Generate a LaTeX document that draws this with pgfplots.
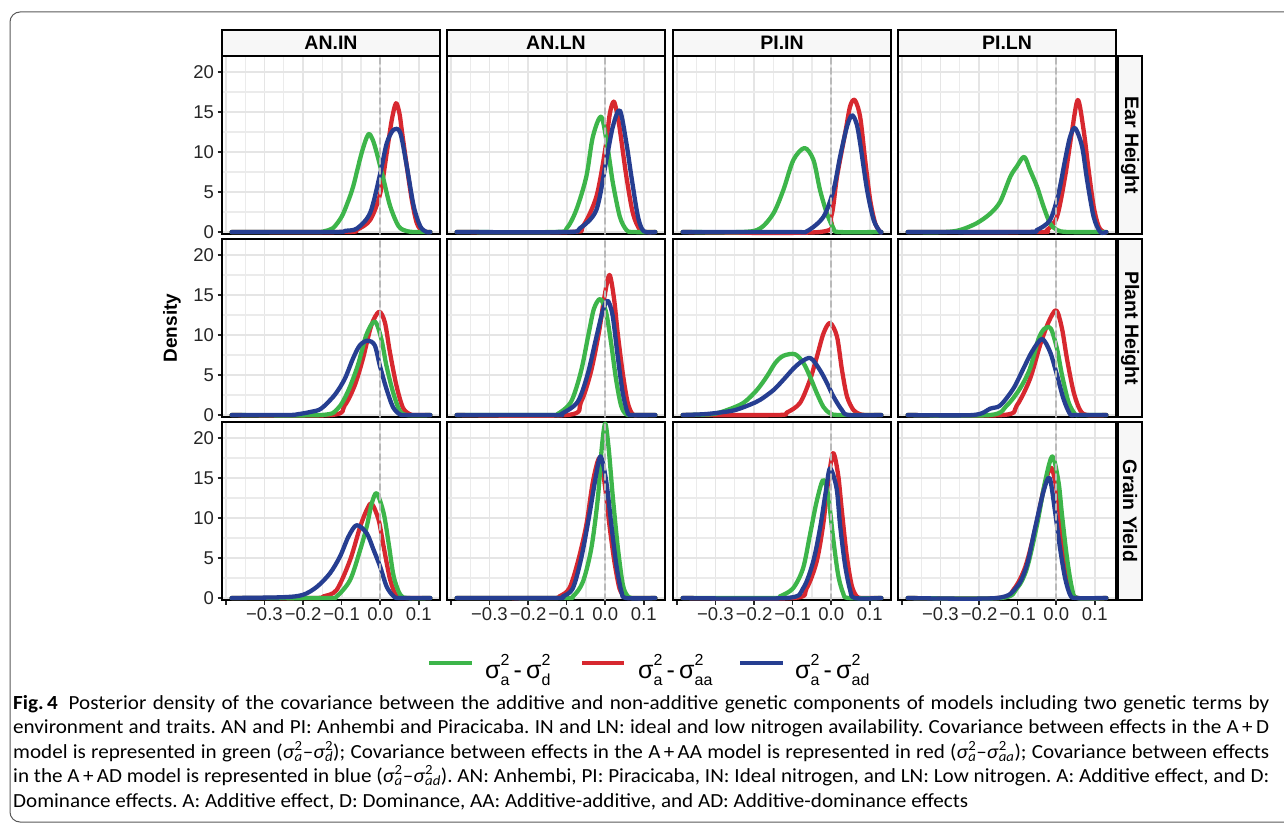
\documentclass[border=0pt]{standalone}
\usepackage{fontspec}
\setmainfont{Liberation Sans}
\newfontfamily\capfont[FakeStretch=1.055]{Carlito}
\usepackage{pgfplots}
\pgfplotsset{compat=1.18}
\frenchspacing

\definecolor{cg}{HTML}{3DB54A}
\definecolor{cr}{HTML}{D7282F}
\definecolor{cb}{HTML}{263E91}

\pgfplotsset{
 pan/.style={scale only axis, width=218pt, height=178pt, anchor=north west,
  xmin=-0.41, xmax=0.155, ymin=-0.25, ymax=22,
  xtick={-0.4,-0.3,-0.2,-0.1,0,0.1}, ytick={0,5,10,15,20},
  minor x tick num=1, minor y tick num=1,
  grid=both,
  major grid style={line width=1.8pt, black!10},
  minor grid style={line width=1.2pt, black!8},
  axis line style={line width=2.2pt, black},
  tick pos=left, tick align=outside,
  major tick length=4.5pt, minor tick length=0pt,
  xtick style={draw=none}, ytick style={draw=none},
  xticklabels={}, yticklabels={},
  tick label style={font=\fontsize{18.5}{18.5}\selectfont, text=black!85},
  clip=false,
  every axis plot/.append style={line width=4.3pt, smooth, tension=0.5, line join=round, line cap=round},
 },
 leftcol/.style={ytick style={draw=black!85, line width=1.6pt}, yticklabels={0,5,10,15,20}},
 botrow/.style={xtick style={draw=black!85, line width=1.6pt}, xticklabels={,−0.3,−0.2,−0.1,0.0,0.1}},
}
\newcommand\zeroline{\addplot[gray!55, sharp plot, line width=1.9pt, dash pattern=on 6pt off 4pt] coordinates {(0,-0.25) (0,22)};}
\newcommand\lsig[1]{σ\rlap{\raisebox{0.52em}{\fontsize{16}{16}\selectfont 2}}\raisebox{-0.3em}{\fontsize{16}{16}\selectfont #1}}
\newcommand\cs[1]{\textit{σ}\rlap{\textsuperscript{2}}\textsubscript{\textit{#1}}}

\begin{document}
\begin{tikzpicture}
\path[use as bounding box] (0pt,0pt) rectangle (1284pt,-829pt);
\draw[black!65, line width=1pt, rounded corners=10pt] (10pt,-12pt) rectangle (1300pt,-822pt);

% ---------- strips ----------
\foreach \L/\t in {222/AN.IN, 447/AN.LN, 673/PI.IN, 898/PI.LN}{
  \draw[line width=2.2pt, fill=black!3] (\L pt,-30pt) rectangle ({\L pt+218pt},-56pt);
  \node[font=\bfseries\fontsize{19.5}{19.5}\selectfont] at ({\L pt+109pt},-43pt) {\t};
}
\foreach \T/\t in {56/Ear Height, 239/Plant Height, 422/Grain Yield}{
  \draw[line width=2.2pt, fill=black!3] (1118pt,-\T pt) rectangle (1142pt,{-\T pt-178pt});
  \node[font=\bfseries\fontsize{19.5}{19.5}\selectfont, rotate=-90] at (1130pt,{-\T pt-89pt}) {\t};
}
\node[font=\bfseries\fontsize{19}{19}\selectfont, rotate=90] at (172pt,-328pt) {Density};

% ---------- row 1: Ear Height ----------
\begin{axis}[pan, leftcol, at={(222pt,-56pt)}]
\addplot[cr] coordinates {(-0.385,0) (-0.09,0) (-0.06,0.3) (-0.026,1.5) (0,4.8) (0.017,9.9) (0.030,14) (0.041,16.1) (0.05,14.8) (0.056,12.7) (0.069,8.2) (0.082,4) (0.095,1.1) (0.11,0.1) (0.13,0)};
\addplot[cg] coordinates {(-0.385,0) (-0.17,0) (-0.145,0.1) (-0.122,0.5) (-0.1,1.9) (-0.085,3.6) (-0.07,5.7) (-0.048,9.9) (-0.031,12.2) (-0.02,11.6) (-0.009,9.9) (0.009,6.5) (0.026,3.2) (0.048,0.7) (0.07,0.1) (0.09,0) (0.13,0)};
\addplot[cb] coordinates {(-0.385,0) (-0.12,0) (-0.09,0.15) (-0.06,0.45) (-0.026,2.4) (0,7.3) (0.017,11.1) (0.035,12.8) (0.052,12.4) (0.069,8.2) (0.087,3.2) (0.104,0.7) (0.12,0) (0.13,0)};
\zeroline
\end{axis}
\begin{axis}[pan, at={(447pt,-56pt)}]
\addplot[cr] coordinates {(-0.385,0) (-0.09,0) (-0.058,0.7) (-0.023,4.4) (0,10.3) (0.012,14.8) (0.022,16.3) (0.03,15) (0.038,12.8) (0.055,6.9) (0.072,2.3) (0.09,0.25) (0.105,0) (0.13,0)};
\addplot[cg] coordinates {(-0.385,0) (-0.13,0) (-0.1,0.45) (-0.075,2.75) (-0.049,6.9) (-0.032,11.9) (-0.01,14.4) (0.007,10.3) (0.02,6.1) (0.038,1.9) (0.055,0.25) (0.07,0) (0.13,0)};
\addplot[cb] coordinates {(-0.385,0) (-0.1,0) (-0.066,0.45) (-0.023,2.75) (0.003,9) (0.02,13.2) (0.038,15.2) (0.055,11.1) (0.068,6.9) (0.085,1.9) (0.1,0.1) (0.13,0)};
\zeroline
\end{axis}
\begin{axis}[pan, at={(673pt,-56pt)}]
\addplot[cr] coordinates {(-0.385,0) (-0.03,0) (0,1.9) (0.015,6.9) (0.036,12.3) (0.049,15.7) (0.061,16.5) (0.075,14.4) (0.088,9) (0.101,4) (0.114,1.1) (0.127,0) (0.13,0)};
\addplot[cg] coordinates {(-0.385,0) (-0.23,0) (-0.184,0.45) (-0.15,2.3) (-0.124,5.25) (-0.098,9) (-0.069,10.5) (-0.046,9) (-0.029,5.25) (-0.011,2.3) (0.006,0.45) (0.02,0) (0.13,0)};
\addplot[cb] coordinates {(-0.385,0) (-0.1,0) (-0.063,0.1) (-0.02,1.9) (0.006,5.25) (0.023,9.4) (0.041,13.2) (0.054,14.6) (0.066,13.5) (0.075,11.1) (0.093,5.25) (0.11,1.5) (0.127,0) (0.13,0)};
\zeroline
\end{axis}
\begin{axis}[pan, at={(898pt,-56pt)}]
\addplot[cr] coordinates {(-0.385,0) (-0.05,0) (-0.024,0.25) (0.002,1.9) (0.023,6.9) (0.04,12.3) (0.056,16.5) (0.071,12.75) (0.084,7.75) (0.097,3.2) (0.11,0.7) (0.123,0) (0.13,0)};
\addplot[cg] coordinates {(-0.385,0) (-0.29,0) (-0.249,0.25) (-0.206,1.1) (-0.171,2.3) (-0.145,3.8) (-0.119,6.9) (-0.102,8.2) (-0.083,9.4) (-0.068,7.75) (-0.05,5.7) (-0.033,3.2) (-0.016,1.1) (0.002,0.25) (0.03,0) (0.13,0)};
\addplot[cb] coordinates {(-0.385,0) (-0.08,0) (-0.05,0.25) (-0.016,1.5) (0.006,4.8) (0.023,9) (0.036,11.9) (0.049,13) (0.067,10.7) (0.08,6.5) (0.097,1.9) (0.114,0) (0.13,0)};
\zeroline
\end{axis}

% ---------- row 2: Plant Height ----------
\begin{axis}[pan, leftcol, at={(222pt,-239pt)}]
\addplot[cr] coordinates {(-0.385,0) (-0.127,0) (-0.092,1.2) (-0.066,3.7) (-0.045,7) (-0.023,11.2) (-0.003,12.9) (0.012,11.6) (0.025,7.9) (0.042,3.7) (0.059,0.9) (0.077,0.1) (0.09,0) (0.13,0)};
\addplot[cg] coordinates {(-0.385,0) (-0.153,0) (-0.11,0.8) (-0.084,2.9) (-0.058,6.2) (-0.036,10) (-0.014,11.7) (0.003,9.5) (0.016,6.2) (0.033,2.9) (0.05,0.6) (0.068,0) (0.13,0)};
\addplot[cb] coordinates {(-0.385,0) (-0.24,0) (-0.213,0.1) (-0.179,0.4) (-0.153,0.8) (-0.118,2.5) (-0.092,4.5) (-0.071,7) (-0.053,8.7) (-0.032,9.3) (-0.014,8.7) (-0.001,6.2) (0.016,3.3) (0.033,1) (0.05,0.1) (0.065,0) (0.13,0)};
\zeroline
\end{axis}
\begin{axis}[pan, at={(447pt,-239pt)}]
\addplot[cr] coordinates {(-0.385,0) (-0.098,0) (-0.063,1.6) (-0.037,5.4) (-0.016,10.4) (-0.003,14.5) (0.011,17.5) (0.023,14.5) (0.032,10.4) (0.045,5.4) (0.058,1.6) (0.071,0.1) (0.085,0) (0.13,0)};
\addplot[cg] coordinates {(-0.385,0) (-0.14,0) (-0.124,0.1) (-0.089,1.6) (-0.063,5.4) (-0.042,10.4) (-0.029,13.3) (-0.013,14.5) (0.002,12.9) (0.015,9.1) (0.028,4.5) (0.041,1.2) (0.054,0.1) (0.07,0) (0.13,0)};
\addplot[cb] coordinates {(-0.385,0) (-0.13,0) (-0.115,0.1) (-0.072,1.6) (-0.046,5) (-0.024,9.5) (-0.007,12.9) (0.006,14.3) (0.019,12.5) (0.032,7.5) (0.045,2.9) (0.058,0.3) (0.07,0) (0.13,0)};
\zeroline
\end{axis}
\begin{axis}[pan, at={(673pt,-239pt)}]
\addplot[cr] coordinates {(-0.385,0) (-0.14,0) (-0.115,0.3) (-0.081,1.5) (-0.055,4.4) (-0.037,7.3) (-0.02,10.2) (-0.003,11.5) (0.015,9.8) (0.028,5.6) (0.041,2.3) (0.058,0.6) (0.075,0.1) (0.09,0) (0.13,0)};
\addplot[cg] coordinates {(-0.385,0) (-0.31,0.1) (-0.271,0.6) (-0.228,1.5) (-0.193,3.1) (-0.167,4.8) (-0.145,6.5) (-0.124,7.4) (-0.094,7.6) (-0.072,6.5) (-0.055,4.8) (-0.037,2.7) (-0.02,1) (-0.003,0.2) (0.02,0) (0.13,0)};
\addplot[cb] coordinates {(-0.385,0) (-0.33,0.1) (-0.29,0.3) (-0.25,0.6) (-0.21,1.3) (-0.184,1.9) (-0.15,3.1) (-0.124,4.4) (-0.098,5.8) (-0.076,6.7) (-0.053,7.1) (-0.029,5.6) (-0.011,4) (0.006,2.3) (0.028,0.6) (0.045,0) (0.13,0)};
\zeroline
\end{axis}
\begin{axis}[pan, at={(898pt,-239pt)}]
\addplot[cr] coordinates {(-0.385,0) (-0.137,0) (-0.102,1.2) (-0.068,4.5) (-0.042,8.7) (-0.02,11.6) (0,13.1) (0.015,10.8) (0.028,7) (0.045,2.9) (0.062,0.6) (0.08,0) (0.13,0)};
\addplot[cg] coordinates {(-0.385,0) (-0.171,0) (-0.128,1.2) (-0.094,3.3) (-0.068,5.8) (-0.046,9.5) (-0.03,10.8) (-0.014,10.8) (0.002,8.3) (0.015,5) (0.032,1.6) (0.049,0.1) (0.06,0) (0.13,0)};
\addplot[cb] coordinates {(-0.385,0) (-0.215,0) (-0.171,0.8) (-0.145,1.2) (-0.111,3.3) (-0.085,5.8) (-0.063,7.9) (-0.037,9.5) (-0.016,7.9) (0.002,5) (0.019,2) (0.036,0.1) (0.05,0) (0.13,0)};
\zeroline
\end{axis}

% ---------- row 3: Grain Yield ----------
\begin{axis}[pan, leftcol, botrow, at={(222pt,-422pt)}]
\addplot[cr] coordinates {(-0.385,0) (-0.17,0) (-0.147,0.2) (-0.113,1) (-0.078,4.75) (-0.052,8.9) (-0.035,11) (-0.022,11.8) (-0.004,9.75) (0.009,6.4) (0.026,2.25) (0.043,0.2) (0.06,0) (0.13,0)};
\addplot[cg] coordinates {(-0.385,0) (-0.14,0) (-0.113,0.2) (-0.078,2.25) (-0.052,6) (-0.035,8.9) (-0.022,11.8) (-0.009,13.1) (0.009,10.6) (0.022,6.8) (0.035,2.7) (0.052,0.4) (0.07,0) (0.13,0)};
\addplot[cb] coordinates {(-0.385,0) (-0.251,0.1) (-0.2,0.4) (-0.164,1.4) (-0.13,3.1) (-0.104,5.2) (-0.082,7.7) (-0.061,9.1) (-0.035,8.1) (-0.017,6) (0,3.9) (0.017,1.4) (0.035,0.2) (0.05,0) (0.13,0)};
\zeroline
\end{axis}
\begin{axis}[pan, botrow, at={(447pt,-422pt)}]
\addplot[cr] coordinates {(-0.385,0) (-0.14,0) (-0.119,0.2) (-0.093,1.2) (-0.071,4.5) (-0.049,9.1) (-0.032,14.5) (-0.015,17.5) (-0.002,14.5) (0.011,9.1) (0.024,4.5) (0.037,1.2) (0.05,0.2) (0.065,0) (0.13,0)};
\addplot[cg] coordinates {(-0.385,0) (-0.11,0) (-0.084,0.2) (-0.058,2) (-0.036,6.2) (-0.019,12.5) (-0.009,18.7) (0,21.8) (0.009,18.7) (0.02,12.5) (0.033,6.2) (0.046,1.6) (0.059,0.2) (0.075,0) (0.13,0)};
\addplot[cb] coordinates {(-0.385,0) (-0.13,0) (-0.11,0.2) (-0.084,1.2) (-0.062,5) (-0.041,10.4) (-0.025,15) (-0.012,17.7) (0.003,14.5) (0.016,9.1) (0.029,4.1) (0.042,0.8) (0.054,0) (0.13,0)};
\zeroline
\end{axis}
\begin{axis}[pan, botrow, at={(673pt,-422pt)}]
\addplot[cr] coordinates {(-0.385,0) (-0.099,0) (-0.064,1.2) (-0.038,4.5) (-0.021,9.1) (-0.008,14.5) (0.005,18.1) (0.018,15.4) (0.027,11.2) (0.04,5.4) (0.053,1.6) (0.066,0.2) (0.08,0) (0.13,0)};
\addplot[cg] coordinates {(-0.385,0) (-0.15,0) (-0.133,0.2) (-0.099,1.2) (-0.073,3.7) (-0.055,7.9) (-0.038,12) (-0.021,14.75) (-0.008,12.9) (0.005,7.5) (0.018,2.9) (0.031,0.6) (0.044,0) (0.13,0)};
\addplot[cb] coordinates {(-0.385,0) (-0.116,0) (-0.073,1.2) (-0.047,4.5) (-0.029,8.7) (-0.014,13.3) (-0.003,16.2) (0.014,13.7) (0.023,9.1) (0.036,4.1) (0.049,1) (0.061,0) (0.13,0)};
\zeroline
\end{axis}
\begin{axis}[pan, botrow, at={(898pt,-422pt)}]
\addplot[cr] coordinates {(-0.385,0) (-0.15,0) (-0.11,1.1) (-0.08,3.9) (-0.053,8.9) (-0.031,13.9) (-0.013,16.3) (0.003,13) (0.013,8.5) (0.026,3.8) (0.04,1) (0.055,0) (0.13,0)};
\addplot[cg] coordinates {(-0.385,0) (-0.145,0) (-0.102,1.2) (-0.076,3.7) (-0.05,9.1) (-0.029,14.5) (-0.01,17.7) (0.006,14.5) (0.015,10.4) (0.028,5) (0.041,1.2) (0.054,0) (0.13,0)};
\addplot[cb] coordinates {(-0.385,0) (-0.154,0) (-0.102,1.4) (-0.076,4.1) (-0.055,8.7) (-0.033,13.3) (-0.017,15) (-0.003,10.8) (0.01,6.2) (0.023,2.5) (0.036,0.4) (0.05,0) (0.13,0)};
\zeroline
\end{axis}

% ---------- legend ----------
\begin{scope}[font=\fontsize{25}{25}\selectfont]
\draw[cg, line width=4.5pt] (429pt,-663pt) -- (472pt,-663pt);
\node[anchor=base west, inner sep=0pt] at (485pt,-678pt) {\lsig{a}\,-\,\lsig{d}};
\draw[cr, line width=4.5pt] (582pt,-663pt) -- (624pt,-663pt);
\node[anchor=base west, inner sep=0pt] at (638pt,-678pt) {\lsig{a}\,-\,\lsig{aa}};
\draw[cb, line width=4.5pt] (740pt,-663pt) -- (783pt,-663pt);
\node[anchor=base west, inner sep=0pt] at (795pt,-678pt) {\lsig{a}\,-\,\lsig{ad}};
\end{scope}

% ---------- caption ----------
\begin{scope}[every node/.style={anchor=base west, inner sep=0pt, font=\capfont\fontsize{20}{20}\selectfont}]
\node at (13pt,-709pt) {\makebox[1256pt][s]{\mbox{\textbf{Fig.\,4}}\hspace{0.55em}Posterior density of the covariance between the additive and non-additive genetic components of models including two genetic terms by}};
\node at (13pt,-733.5pt) {\makebox[1256pt][s]{environment and traits. AN and PI: Anhembi and Piracicaba. IN and LN: ideal and low nitrogen availability. Covariance between effects in the A\,+\,D}};
\node at (13pt,-758pt) {\makebox[1256pt][s]{model is represented in green (\cs{a}–\cs{d}); Covariance between effects in the A\,+\,AA model is represented in red (\cs{a}–\cs{aa}); Covariance between effects}};
\node at (13pt,-782.5pt) {\makebox[1256pt][s]{in the A\,+\,AD model is represented in blue (\cs{a}–\cs{ad}). AN: Anhembi, PI: Piracicaba, IN: Ideal nitrogen, and LN: Low nitrogen. A: Additive effect, and D:}};
\node at (13pt,-807pt) {Dominance effects. A: Additive effect, D: Dominance, AA: Additive-additive, and AD: Additive-dominance effects};
\end{scope}
\end{tikzpicture}
\end{document}
